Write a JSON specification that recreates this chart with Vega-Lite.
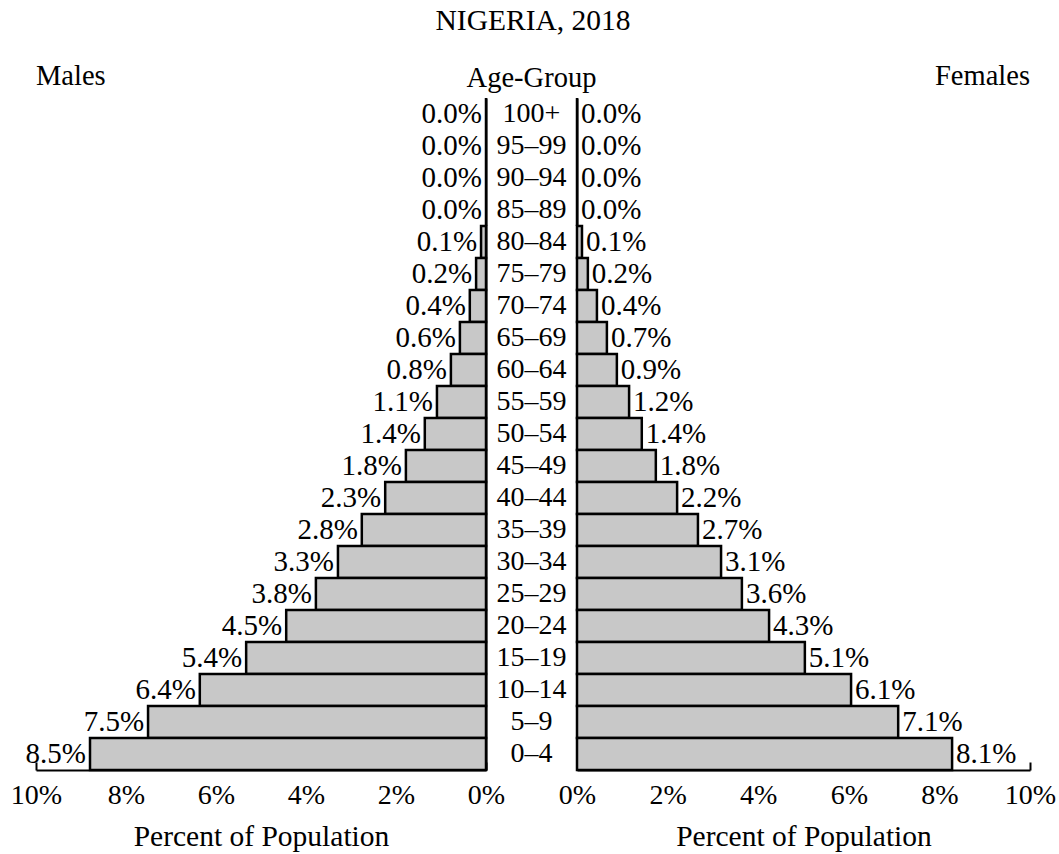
{
  "$schema": "https://vega.github.io/schema/vega-lite/v6.json",
  "padding": {"left": 10, "top": 5, "right": 5, "bottom": 5},
  "title": {"text": "NIGERIA, 2018", "fontSize": 29.5, "fontWeight": "normal", "font": "Liberation Serif", "color": "black", "anchor": "middle", "offset": 26},
  "config": {
    "font": "Liberation Serif",
    "view": {"stroke": null},
    "axis": {"labelFont": "Liberation Serif", "titleFont": "Liberation Serif", "labelFontSize": 28, "titleFontSize": 29.5, "titleFontWeight": "normal", "labelColor": "black", "titleColor": "black", "domainColor": "black", "tickColor": "black", "domainWidth": 2, "tickWidth": 2, "grid": false},
    "title": {"font": "Liberation Serif", "fontSize": 28.5, "fontWeight": "normal", "color": "black"}
  },
  "datasets": {
    "pop": [
      {"age": "100+", "sex": "Males", "value": 0, "label": "0.0%"},
      {"age": "95–99", "sex": "Males", "value": 0, "label": "0.0%"},
      {"age": "90–94", "sex": "Males", "value": 0, "label": "0.0%"},
      {"age": "85–89", "sex": "Males", "value": 0, "label": "0.0%"},
      {"age": "80–84", "sex": "Males", "value": 0.11, "label": "0.1%"},
      {"age": "75–79", "sex": "Males", "value": 0.22, "label": "0.2%"},
      {"age": "70–74", "sex": "Males", "value": 0.36, "label": "0.4%"},
      {"age": "65–69", "sex": "Males", "value": 0.58, "label": "0.6%"},
      {"age": "60–64", "sex": "Males", "value": 0.78, "label": "0.8%"},
      {"age": "55–59", "sex": "Males", "value": 1.09, "label": "1.1%"},
      {"age": "50–54", "sex": "Males", "value": 1.36, "label": "1.4%"},
      {"age": "45–49", "sex": "Males", "value": 1.78, "label": "1.8%"},
      {"age": "40–44", "sex": "Males", "value": 2.24, "label": "2.3%"},
      {"age": "35–39", "sex": "Males", "value": 2.76, "label": "2.8%"},
      {"age": "30–34", "sex": "Males", "value": 3.29, "label": "3.3%"},
      {"age": "25–29", "sex": "Males", "value": 3.78, "label": "3.8%"},
      {"age": "20–24", "sex": "Males", "value": 4.44, "label": "4.5%"},
      {"age": "15–19", "sex": "Males", "value": 5.33, "label": "5.4%"},
      {"age": "10–14", "sex": "Males", "value": 6.36, "label": "6.4%"},
      {"age": "5–9", "sex": "Males", "value": 7.51, "label": "7.5%"},
      {"age": "0–4", "sex": "Males", "value": 8.8, "label": "8.5%"},
      {"age": "100+", "sex": "Females", "value": 0, "label": "0.0%"},
      {"age": "95–99", "sex": "Females", "value": 0, "label": "0.0%"},
      {"age": "90–94", "sex": "Females", "value": 0, "label": "0.0%"},
      {"age": "85–89", "sex": "Females", "value": 0, "label": "0.0%"},
      {"age": "80–84", "sex": "Females", "value": 0.11, "label": "0.1%"},
      {"age": "75–79", "sex": "Females", "value": 0.24, "label": "0.2%"},
      {"age": "70–74", "sex": "Females", "value": 0.44, "label": "0.4%"},
      {"age": "65–69", "sex": "Females", "value": 0.66, "label": "0.7%"},
      {"age": "60–64", "sex": "Females", "value": 0.88, "label": "0.9%"},
      {"age": "55–59", "sex": "Females", "value": 1.15, "label": "1.2%"},
      {"age": "50–54", "sex": "Females", "value": 1.43, "label": "1.4%"},
      {"age": "45–49", "sex": "Females", "value": 1.74, "label": "1.8%"},
      {"age": "40–44", "sex": "Females", "value": 2.21, "label": "2.2%"},
      {"age": "35–39", "sex": "Females", "value": 2.67, "label": "2.7%"},
      {"age": "30–34", "sex": "Females", "value": 3.18, "label": "3.1%"},
      {"age": "25–29", "sex": "Females", "value": 3.64, "label": "3.6%"},
      {"age": "20–24", "sex": "Females", "value": 4.24, "label": "4.3%"},
      {"age": "15–19", "sex": "Females", "value": 5.03, "label": "5.1%"},
      {"age": "10–14", "sex": "Females", "value": 6.05, "label": "6.1%"},
      {"age": "5–9", "sex": "Females", "value": 7.09, "label": "7.1%"},
      {"age": "0–4", "sex": "Females", "value": 8.28, "label": "8.1%"}
    ]
  },
  "spacing": 0,
  "bounds": "flush",
  "hconcat": [
    {
      "width": 450,
      "height": 672,
      "data": {"name": "pop"},
      "transform": [{"filter": "datum.sex === 'Males'"}],
      "title": {"text": "Males", "anchor": "start", "frame": "group", "offset": 6},
      "encoding": {
        "y": {"field": "age", "type": "nominal", "sort": null,
              "scale": {"domain": ["100+","95–99","90–94","85–89","80–84","75–79","70–74","65–69","60–64","55–59","50–54","45–49","40–44","35–39","30–34","25–29","20–24","15–19","10–14","5–9","0–4"], "paddingInner": 0, "paddingOuter": 0},
              "axis": {"orient": "right", "labels": false, "ticks": false, "title": null}}
      },
      "layer": [
        {
          "mark": {"type": "bar", "fill": "#c8c8c8", "stroke": "black", "strokeWidth": 2.5},
          "encoding": {
            "x": {"field": "value", "type": "quantitative", "scale": {"domain": [0, 10], "reverse": true, "nice": false},
                  "axis": {"values": [0, 2, 4, 6, 8, 10], "labelExpr": "datum.value + '%'", "labelFlush": false, "labelOverlap": false, "tickSize": -8, "labelPadding": 19, "title": "Percent of Population", "titlePadding": 13}}
          }
        },
        {
          "mark": {"type": "text", "align": "right", "dx": -4, "fontSize": 29, "color": "black"},
          "encoding": {
            "x": {"field": "value", "type": "quantitative"},
            "text": {"field": "label"}
          }
        }
      ]
    },
    {
      "width": 91,
      "height": 672,
      "data": {"name": "pop"},
      "transform": [{"filter": "datum.sex === 'Males'"}],
      "title": {"text": "Age-Group", "anchor": "middle", "frame": "group", "offset": 6},
      "mark": {"type": "text", "fontSize": 28, "color": "black", "align": "center"},
      "encoding": {
        "y": {"field": "age", "type": "nominal", "sort": null,
              "scale": {"domain": ["100+","95–99","90–94","85–89","80–84","75–79","70–74","65–69","60–64","55–59","50–54","45–49","40–44","35–39","30–34","25–29","20–24","15–19","10–14","5–9","0–4"], "paddingInner": 0, "paddingOuter": 0},
              "axis": null},
        "text": {"field": "age"}
      }
    },
    {
      "width": 453,
      "height": 672,
      "data": {"name": "pop"},
      "transform": [{"filter": "datum.sex === 'Females'"}],
      "title": {"text": "Females", "anchor": "end", "frame": "group", "offset": 6},
      "encoding": {
        "y": {"field": "age", "type": "nominal", "sort": null,
              "scale": {"domain": ["100+","95–99","90–94","85–89","80–84","75–79","70–74","65–69","60–64","55–59","50–54","45–49","40–44","35–39","30–34","25–29","20–24","15–19","10–14","5–9","0–4"], "paddingInner": 0, "paddingOuter": 0},
              "axis": {"orient": "left", "labels": false, "ticks": false, "title": null}}
      },
      "layer": [
        {
          "mark": {"type": "bar", "fill": "#c8c8c8", "stroke": "black", "strokeWidth": 2.5},
          "encoding": {
            "x": {"field": "value", "type": "quantitative", "scale": {"domain": [0, 10], "nice": false},
                  "axis": {"values": [0, 2, 4, 6, 8, 10], "labelExpr": "datum.value + '%'", "labelFlush": false, "labelOverlap": false, "tickSize": -8, "labelPadding": 19, "title": "Percent of Population", "titlePadding": 13}}
          }
        },
        {
          "mark": {"type": "text", "align": "left", "dx": 4, "fontSize": 29, "color": "black"},
          "encoding": {
            "x": {"field": "value", "type": "quantitative"},
            "text": {"field": "label"}
          }
        }
      ]
    }
  ]
}
